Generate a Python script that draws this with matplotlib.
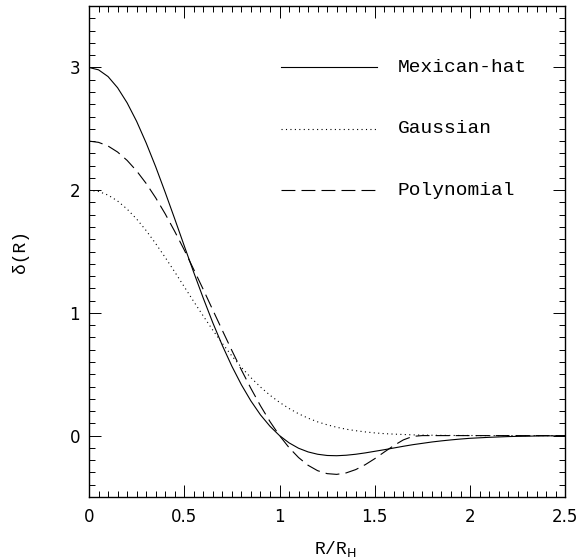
import numpy as np
import matplotlib
matplotlib.use("Agg")
import matplotlib.pyplot as plt
from matplotlib.ticker import MultipleLocator

# ── Data ─────────────────────────────────────────────────────────

R = [0.00, 0.05, 0.10, 0.15, 0.20, 0.25, 0.30, 0.35, 0.40, 0.45,
     0.50, 0.55, 0.60, 0.65, 0.70, 0.75, 0.80, 0.85, 0.90, 0.95,
     1.00, 1.05, 1.10, 1.15, 1.20, 1.25, 1.30, 1.35, 1.40, 1.45,
     1.50, 1.55, 1.60, 1.65, 1.70, 1.75, 1.80, 1.85, 1.90, 1.95,
     2.00, 2.05, 2.10, 2.15, 2.20, 2.25, 2.30, 2.35, 2.40, 2.45, 2.50]

mexican_hat = [3.000, 2.981, 2.926, 2.835, 2.712, 2.561, 2.385, 2.191, 1.982, 1.766,
               1.546, 1.329, 1.119, 0.919, 0.734, 0.565, 0.414, 0.282, 0.169, 0.076,
               0.000, -0.059, -0.103, -0.133, -0.152, -0.162, -0.164, -0.160, -0.152, -0.141,
               -0.128, -0.115, -0.101, -0.087, -0.074, -0.063, -0.052, -0.043, -0.035, -0.028,
               -0.022, -0.018, -0.014, -0.011, -0.008, -0.006, -0.005, -0.003, -0.002, -0.002, -0.001]

gaussian = [2.000, 1.990, 1.960, 1.912, 1.846, 1.765, 1.671, 1.565, 1.452, 1.334,
            1.213, 1.092, 0.974, 0.859, 0.751, 0.649, 0.556, 0.472, 0.396, 0.329,
            0.271, 0.221, 0.178, 0.142, 0.112, 0.088, 0.068, 0.052, 0.040, 0.030,
            0.022, 0.016, 0.012, 0.009, 0.006, 0.004, 0.003, 0.002, 0.001, 0.001,
            0.001, 0.000, 0.000, 0.000, 0.000, 0.000, 0.000, 0.000, 0.000, 0.000, 0.000]

polynomial = [2.400, 2.390, 2.360, 2.311, 2.243, 2.157, 2.055, 1.938, 1.807, 1.664,
              1.513, 1.353, 1.190, 1.023, 0.857, 0.693, 0.535, 0.384, 0.243, 0.114,
              0.000, -0.098, -0.179, -0.242, -0.286, -0.310, -0.316, -0.304, -0.277, -0.237,
              -0.188, -0.134, -0.081, -0.035, -0.006, 0.000, 0.000, 0.000, 0.000, 0.000,
              0.000, 0.000, 0.000, 0.000, 0.000, 0.000, 0.000, 0.000, 0.000, 0.000, 0.000]

legend_labels = ["Mexican-hat", "Gaussian", "Polynomial"]
legend_y = [3.0, 2.5, 2.0]

# ── Plot ─────────────────────────────────────────────────────────

LW = 0.8
styles = ["-", (0, (1, 3)), (0, (12.5, 5.5))]
series = [mexican_hat, gaussian, polynomial]

fig = plt.figure(figsize=(5.78, 5.59), dpi=100)
ax = fig.add_axes([0.154, 0.111, 0.824, 0.878])

for ys, ls in zip(series, styles):
    ax.plot(R, ys, color="black", linewidth=LW, linestyle=ls)

# hand-drawn legend inside the axes
for lab, y, ls in zip(legend_labels, legend_y, styles):
    ax.plot([1.01, 1.51], [y, y], color="black", linewidth=LW, linestyle=ls)
    ax.text(1.62, y, lab, fontsize=14, family="Liberation Mono",
            ha="left", va="center")

ax.set_xlim(0, 2.5)
ax.set_ylim(-0.5, 3.5)
ax.xaxis.set_major_locator(MultipleLocator(0.5))
ax.xaxis.set_minor_locator(MultipleLocator(0.05))
ax.yaxis.set_major_locator(MultipleLocator(1))
ax.yaxis.set_minor_locator(MultipleLocator(0.1))
ax.set_xticks([0, 0.5, 1, 1.5, 2, 2.5])
ax.set_xticklabels(["0", "0.5", "1", "1.5", "2", "2.5"])
ax.set_yticks([0, 1, 2, 3])
ax.set_yticklabels(["0", "1", "2", "3"])

ax.tick_params(which="both", direction="in", top=True, right=True,
               width=0.7, labelsize=12)
ax.tick_params(axis="x", which="major", length=8.6, pad=8)
ax.tick_params(axis="y", which="major", length=8.6, pad=6.5)
ax.tick_params(which="minor", length=4.3)
for s in ax.spines.values():
    s.set_linewidth(1.0)

plt.rcParams["mathtext.fontset"] = "custom"
plt.rcParams["mathtext.rm"] = "Liberation Mono"
ax.set_xlabel(r"R/R$_{\rm H}$", fontsize=13, family="Liberation Mono")
ax.set_ylabel("\u03b4(R)", fontsize=13, family="Liberation Mono")
ax.xaxis.set_label_coords(0.517, -0.085)
ax.yaxis.set_label_coords(-0.125, 0.5)

fig.savefig("out.png", dpi=100)
plt.close()
